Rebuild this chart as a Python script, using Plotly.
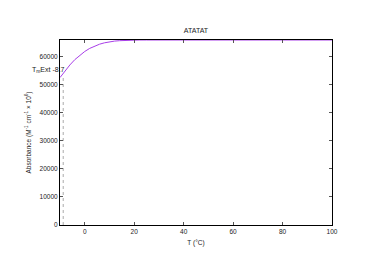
import plotly.graph_objects as go

temps = [-10, -8, -6, -4, -2, 0, 2, 4, 6, 8, 10, 12, 14, 16, 18, 20, 22, 25, 30, 40, 50, 60, 70, 80, 90, 100]
absorb = [52600, 55000, 57100, 59000, 60600, 61900, 63000, 63900, 64500, 65000, 65350, 65600, 65750, 65850, 65920, 65960, 65990, 66000, 66000, 66000, 66000, 66000, 66000, 66000, 66000, 66000]
tm_ext = -8.7
tm_abs = 53400
x_ticks = [0, 20, 40, 60, 80, 100]
y_ticks = [0, 10000, 20000, 30000, 40000, 50000, 60000]

fig = go.Figure()
fig.add_trace(go.Scatter(x=[tm_ext, tm_ext], y=[0, tm_abs], mode="lines",
                         line=dict(color="#aaaaaa", width=1, dash="dot"), showlegend=False))
fig.add_trace(go.Scatter(x=temps, y=absorb, mode="lines",
                         line=dict(color="#a83ee8", width=1), showlegend=False))
fig.add_annotation(x=tm_ext, y=55300, text="T<sub>m</sub>Ext -8.7", showarrow=False,
                   xanchor="right", yanchor="middle", xshift=4,
                   font=dict(size=7, color="#222222"))

axis_common = dict(showline=True, linecolor="black", linewidth=1, mirror="allticks",
                   ticks="inside", ticklen=3, tickcolor="#555555", showgrid=False, zeroline=False,
                   tickfont=dict(size=6.5, color="#222222"))
fig.update_xaxes(range=[-10, 100], tickvals=x_ticks, ticktext=[str(v) for v in x_ticks],
                 title=dict(text="T (°C)", font=dict(size=6.5, color="#222222"), standoff=6),
                 **axis_common)
fig.update_yaxes(range=[0, 66000], tickvals=y_ticks, ticktext=[str(v) for v in y_ticks],
                 title=dict(text="Absorbance (M<sup>-1</sup> cm<sup>-1</sup> × 10<sup>6</sup>)",
                            font=dict(size=6.5, color="#222222"), standoff=7),
                 **axis_common)
fig.update_layout(width=374, height=264, margin=dict(l=60, r=42, t=40, b=39),
                  paper_bgcolor="white", plot_bgcolor="white",
                  font=dict(family="Liberation Sans, Arial, sans-serif"),
                  title=dict(text="ATATAT", x=0.524, xanchor="center", y=0.885, yanchor="middle",
                             font=dict(size=7, color="#222222")))
fig.write_html("out.html")
